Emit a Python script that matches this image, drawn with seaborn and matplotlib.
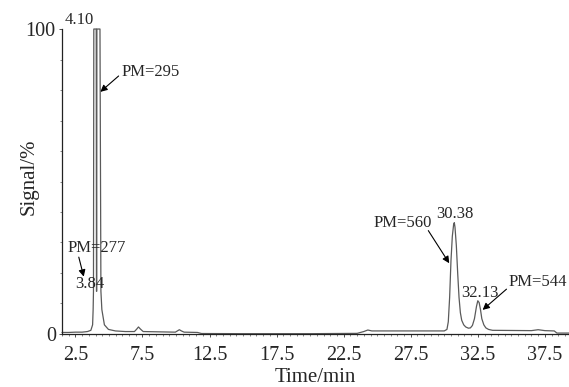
import numpy as np
import pandas as pd
import seaborn as sns
import matplotlib
matplotlib.use("Agg")
import matplotlib.pyplot as plt
from matplotlib.ticker import MultipleLocator, FixedLocator

# ---- data ----
time_min = [1.5, 2.0, 2.5, 3.0, 3.4, 3.65, 3.78, 3.82, 3.845, 3.87, 4.05, 4.07, 4.085,
            4.10, 4.33, 4.40, 4.47, 4.66, 4.96, 5.48, 6.22, 6.9, 7.05, 7.2, 7.35, 7.55,
            9.95, 10.1, 10.25, 10.4, 10.6, 11.6, 11.9, 15.0, 20.0, 23.5, 24.0, 24.3, 24.6,
            27.0, 29.5, 30.0, 30.2, 30.3, 30.4, 30.5, 30.6, 30.7, 30.75, 30.8, 30.9, 31.0,
            31.1, 31.2, 31.3, 31.45, 31.6, 31.8, 31.95, 32.1, 32.25, 32.4, 32.5, 32.6, 32.7,
            32.8, 32.95, 33.1, 33.3, 33.6, 36.5, 37.0, 37.5, 38.2, 38.4, 39.3]
signal_pct = [0.5, 0.5, 0.6, 0.6, 0.8, 1.2, 3, 8, 14, 100, 100, 14, 14,
              100, 100, 14, 8, 3, 1.5, 1.0, 0.8, 0.8, 1.5, 2.3, 1.6, 0.8,
              0.6, 1.0, 1.4, 1.0, 0.6, 0.5, 0.15, 0.1, 0.1, 0.2, 0.8, 1.3, 1.0,
              1.0, 1.0, 1.0, 1.5, 4, 12, 24, 32, 36, 36.5, 35, 29, 20,
              12, 7, 4.5, 3, 2.3, 1.9, 2.0, 2.8, 5, 9, 10.9, 10.3, 8,
              5, 3, 2, 1.5, 1.2, 1.1, 1.4, 1.1, 1.0, 0.3, 0.3]

x_ticks = [2.5, 7.5, 12.5, 17.5, 22.5, 27.5, 32.5, 37.5]
x_tick_labels = ["2.5", "7.5", "12.5", "17.5", "22.5", "27.5", "32.5", "37.5"]
y_ticks = [0, 100]
y_tick_labels = ["0", "100"]

# peak labels (text, text position) and arrows (text, tail, head)
peak_labels = ["4.10", "3.84", "30.38", "32.13"]
peak_label_pos = [(2.80, 103), (3.56, 16.3), (30.8, 39.2), (32.63, 13.6)]
pm_labels = ["PM=295", "PM=277", "PM=560", "PM=544"]
pm_text_pos = [(8.08, 86), (4.12, 28.1), (26.9, 36.5), (36.95, 17.1)]
pm_tail_pos = [(5.72, 84.6), (2.75, 25.2), (28.81, 33.9), (34.64, 14.7)]
pm_head_pos = [(4.36, 79.4), (3.12, 18.8), (30.37, 23.2), (32.86, 7.9)]

df = pd.DataFrame({"time": time_min, "signal": signal_pct})

sns.set_theme(style="ticks")
plt.rcParams["font.family"] = ["Liberation Serif", "DejaVu Serif"]

fig = plt.figure(figsize=(5.69, 3.87), dpi=100)
ax = fig.add_axes([0.109, 0.137, 0.891, 0.788])

sns.lineplot(data=df, x="time", y="signal", ax=ax, color="#5a5a5a", linewidth=0.9,
             estimator=None, sort=False)
for ln in ax.get_lines():
    ln.set_clip_on(False)

ax.set_xlim(1.5, 39.3)
ax.set_ylim(0, 100)

ax.xaxis.set_major_locator(FixedLocator(x_ticks))
ax.set_xticklabels(x_tick_labels)
ax.xaxis.set_minor_locator(MultipleLocator(0.5))
ax.yaxis.set_major_locator(FixedLocator(y_ticks))
ax.set_yticklabels(y_tick_labels)
ax.yaxis.set_minor_locator(MultipleLocator(10))

ax.tick_params(axis="both", which="major", labelsize=14.5, length=2.5, width=0.6,
               color="#333333", pad=2)
ax.tick_params(axis="x", which="major", pad=6)
ax.tick_params(axis="both", which="minor", length=1.5, width=0.5, color="#555555")

sns.despine(ax=ax, top=True, right=True)
for s in ["left", "bottom"]:
    ax.spines[s].set_color("#222222")
    ax.spines[s].set_linewidth(0.9)

ax.set_xlabel("Time/min", fontsize=15, labelpad=2)
ax.set_ylabel("Signal/%", fontsize=15)
ax.yaxis.set_label_coords(-0.046, 0.515)

for txt, (tx, ty) in zip(peak_labels, peak_label_pos):
    ax.text(tx, ty, txt, fontsize=12, ha="center", va="center", clip_on=False)

for txt, (tx, ty), tail, head in zip(pm_labels, pm_text_pos, pm_tail_pos, pm_head_pos):
    ax.text(tx, ty, txt, fontsize=12, ha="center", va="center", clip_on=False)
    ax.annotate("", xy=head, xytext=tail,
                arrowprops=dict(arrowstyle="-|>", color="black", lw=0.8,
                                mutation_scale=10, shrinkA=0, shrinkB=0))

fig.savefig("out.png", dpi=100)
